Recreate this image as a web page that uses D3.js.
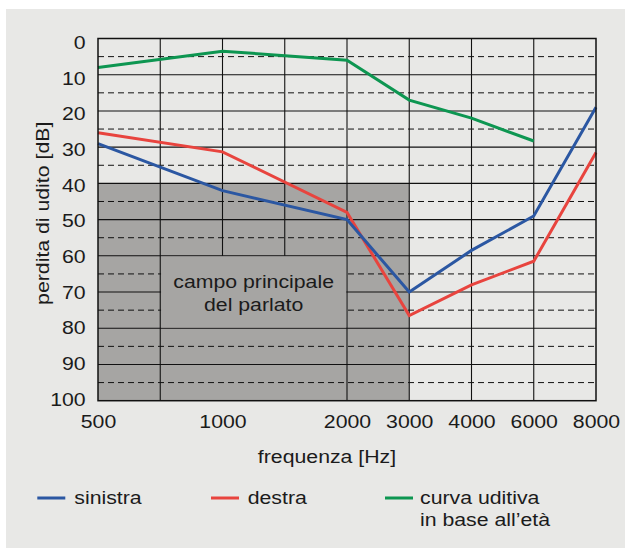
<!DOCTYPE html>
<html>
<head>
<meta charset="utf-8">
<script src="https://cdn.jsdelivr.net/npm/d3@7"></script>
<style>
  html, body { margin: 0; padding: 0; background: #ffffff; }
  svg { display: block; }
  text { font-family: "Liberation Sans", Arial, Helvetica, sans-serif; fill: #1b1b1b; }
</style>
</head>
<body>
<script>
// ---- data ----
const freqs = ["500", "750", "1000", "1500", "2000", "3000", "4000", "6000", "8000"];
const xTickLabels = ["500", "1000", "2000", "3000", "4000", "6000", "8000"];
const yTickValues = [0, 10, 20, 30, 40, 50, 60, 70, 80, 90, 100];
const solidGrid = [10, 20, 30, 40, 50, 60, 70, 80, 90];
const dashedGrid = [5, 15, 25, 35, 45, 55, 65, 75, 85, 95];
const shortVerticals = ["1000", "1500"];

const leftFreq = ["500", "1000", "2000", "3000", "4000", "6000", "8000"];
const leftDb = [29, 42, 50, 70, 58.5, 49, 19];
const rightFreq = ["500", "1000", "2000", "3000", "4000", "6000", "8000"];
const rightDb = [26, 31.3, 48, 76.5, 68, 61.5, 31.5];
const ageFreq = ["500", "1000", "2000", "3000", "4000", "6000"];
const ageDb = [8, 3.5, 6, 17, 22, 28.3];

const speechFreq = ["500", "3000"];
const speechDb = [40, 100];
const speechLabelFreq = ["750", "2000"];
const speechLabelDb = [60, 80];
const speechLabel = ["campo principale", "del parlato"];

const legendNames = ["sinistra", "destra", "curva uditiva"];
const legendExtra = "in base all\u2019et\u00e0";

const colors = { left: "#2b57a2", right: "#e8443e", age: "#0d9651" };

// ---- setup ----
const W = 625, H = 549;
const SX = 1.15; // horizontal text stretch
const FS = 18.5;
const svg = d3.select("body").append("svg").attr("width", W).attr("height", H);

svg.append("rect").attr("x", 6).attr("y", 9).attr("width", W - 6).attr("height", 539).attr("fill", "#e8e8e6");

const x = d3.scalePoint().domain(freqs).range([98, 596]);
const y = d3.scaleLinear().domain([0, 100]).range([38.5, 400.7]);
const yLab = d3.scaleLinear().domain([0, 100]).range([48.4, 405]);

const plot = svg.append("g");

// speech area
plot.append("rect")
  .attr("x", x(speechFreq[0])).attr("y", y(speechDb[0]))
  .attr("width", x(speechFreq[1]) - x(speechFreq[0]))
  .attr("height", y(speechDb[1]) - y(speechDb[0]))
  .attr("fill", "#a6a5a3");

// horizontal grid
plot.selectAll(".hs").data(solidGrid).join("line")
  .attr("x1", x.range()[0]).attr("x2", x.range()[1])
  .attr("y1", d => y(d)).attr("y2", d => y(d))
  .attr("stroke", "#111").attr("stroke-width", 1.1);
plot.selectAll(".hd").data(dashedGrid).join("line")
  .attr("x1", x.range()[0]).attr("x2", x.range()[1])
  .attr("y1", d => y(d)).attr("y2", d => y(d))
  .attr("stroke", "#111").attr("stroke-width", 1)
  .attr("stroke-dasharray", "6,4");

// vertical grid
plot.selectAll(".v").data(freqs.slice(1, -1)).join("line")
  .attr("x1", d => x(d)).attr("x2", d => x(d))
  .attr("y1", y(0))
  .attr("y2", d => shortVerticals.includes(d) ? y(speechLabelDb[0]) : y(100))
  .attr("stroke", "#111").attr("stroke-width", 1.1);

// label box mask
plot.append("rect")
  .attr("x", x(speechLabelFreq[0]) + 0.8).attr("y", y(speechLabelDb[0]) + 0.8)
  .attr("width", x(speechLabelFreq[1]) - x(speechLabelFreq[0]) - 1.6)
  .attr("height", y(speechLabelDb[1]) - y(speechLabelDb[0]) - 1.6)
  .attr("fill", "#a6a5a3");

function stext(parent, tx, ty, str, anchor, extra) {
  return parent.append("text")
    .attr("transform", `translate(${tx},${ty})${extra || ""} scale(${SX},1)`)
    .attr("text-anchor", anchor)
    .attr("font-size", FS)
    .text(str);
}

const cx = (x(speechLabelFreq[0]) + x(speechLabelFreq[1])) / 2;
stext(plot, cx, 288.3, speechLabel[0], "middle");
stext(plot, cx, 311, speechLabel[1], "middle");

// curves
const line = d3.line().x(d => x(d[0])).y(d => y(d[1]));
function drawCurve(fs, vs, col) {
  plot.append("path")
    .datum(fs.map((f, i) => [f, vs[i]]))
    .attr("d", line)
    .attr("fill", "none")
    .attr("stroke", col)
    .attr("stroke-width", 3)
    .attr("stroke-linejoin", "miter");
}
drawCurve(ageFreq, ageDb, colors.age);
drawCurve(rightFreq, rightDb, colors.right);
drawCurve(leftFreq, leftDb, colors.left);

// frame
plot.append("rect")
  .attr("x", x.range()[0]).attr("y", y(0))
  .attr("width", x.range()[1] - x.range()[0])
  .attr("height", y(100) - y(0))
  .attr("fill", "none").attr("stroke", "#111").attr("stroke-width", 1.5);

// axes
const xAxis = d3.axisBottom(x).tickValues(xTickLabels).tickSize(0);
const gx = svg.append("g").attr("transform", `translate(0,${y(100)})`).call(xAxis);
gx.select(".domain").remove();
gx.selectAll("text")
  .attr("x", null).attr("y", null).attr("dy", null)
  .attr("transform", `translate(0,27) scale(${SX},1)`)
  .attr("font-size", FS).attr("font-family", null).attr("fill", "#1b1b1b");

const yAxis = d3.axisLeft(y).tickValues(yTickValues).tickSize(0);
const gy = svg.append("g").attr("transform", `translate(${x.range()[0]},0)`).call(yAxis);
gy.select(".domain").remove();
gy.selectAll("text")
  .attr("x", null).attr("y", null).attr("dy", null)
  .attr("transform", d => `translate(-12.3,${yLab(d) - y(d)}) scale(${SX},1)`)
  .attr("font-size", FS).attr("font-family", null).attr("fill", "#1b1b1b")
  .attr("text-anchor", "end");

// axis titles
stext(svg, 327, 462.5, "frequenza [Hz]", "middle");
stext(svg, 49.3, 213.3, "perdita di udito [dB]", "middle", " rotate(-90)");

// legend
const legend = [
  { name: legendNames[0], col: colors.left, lx: 37.3, tx: 74.3 },
  { name: legendNames[1], col: colors.right, lx: 211, tx: 247.7 },
  { name: legendNames[2], col: colors.age, lx: 385, tx: 420 }
];
legend.forEach(l => {
  svg.append("line").attr("x1", l.lx).attr("x2", l.lx + 28)
    .attr("y1", 498).attr("y2", 498)
    .attr("stroke", l.col).attr("stroke-width", 3);
  stext(svg, l.tx, 504.2, l.name, "start");
});
stext(svg, 420, 526, legendExtra, "start");
</script>
</body>
</html>
